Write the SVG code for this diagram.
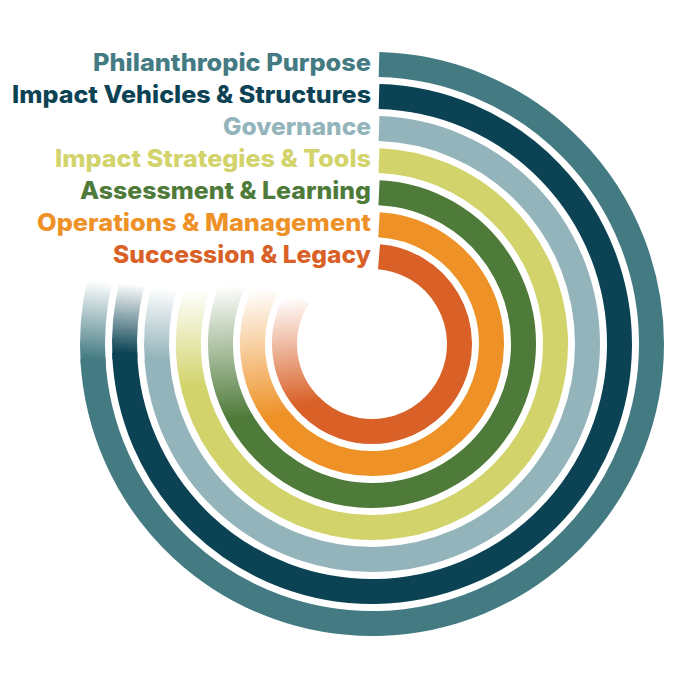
<svg xmlns="http://www.w3.org/2000/svg" width="682" height="682" viewBox="0 0 682 682">
<style>
.ring{fill:none;stroke-width:25}
.lbl{font-family:Inter,"Open Sans","Liberation Sans",sans-serif;font-weight:800;font-size:24px}
</style>
<defs>
<linearGradient id="g1" gradientUnits="userSpaceOnUse" x1="93.36" y1="365.93" x2="99.66" y2="281.13"><stop offset="0.08" stop-color="#447B83"/><stop offset="1" stop-color="#447B83" stop-opacity="0"/></linearGradient>
<linearGradient id="g2" gradientUnits="userSpaceOnUse" x1="124.96" y1="359.11" x2="131.85" y2="284.12"><stop offset="0.08" stop-color="#0B4355"/><stop offset="1" stop-color="#0B4355" stop-opacity="0"/></linearGradient>
<linearGradient id="g3" gradientUnits="userSpaceOnUse" x1="157.49" y1="364.65" x2="163.84" y2="288.22"><stop offset="0.08" stop-color="#94B4BB"/><stop offset="1" stop-color="#94B4BB" stop-opacity="0"/></linearGradient>
<linearGradient id="g4" gradientUnits="userSpaceOnUse" x1="195.17" y1="393.04" x2="196.52" y2="290.35"><stop offset="0.06" stop-color="#D2D36A"/><stop offset="1" stop-color="#D2D36A" stop-opacity="0"/></linearGradient>
<linearGradient id="g5" gradientUnits="userSpaceOnUse" x1="242.83" y1="423.16" x2="232.54" y2="284.80"><stop offset="0.04" stop-color="#4F7B3A"/><stop offset="1" stop-color="#4F7B3A" stop-opacity="0"/></linearGradient>
<linearGradient id="g6" gradientUnits="userSpaceOnUse" x1="281.13" y1="421.61" x2="266.49" y2="287.90"><stop offset="0.04" stop-color="#EE9126"/><stop offset="1" stop-color="#EE9126" stop-opacity="0"/></linearGradient>
<linearGradient id="g7" gradientUnits="userSpaceOnUse" x1="311.77" y1="407.47" x2="298.62" y2="296.34"><stop offset="0.04" stop-color="#D96128"/><stop offset="1" stop-color="#D96128" stop-opacity="0"/></linearGradient>
</defs>
<rect width="682" height="682" fill="#FFFFFF"/>
<g id="ring-philanthropic-purpose">
<path class="ring" stroke="#447B83" d="M379,64.59 A279.5,279.5 0 1 1 92.88,358.63"/>
<path class="ring" stroke="url(#g1)" d="M93.36,365.93 A279.5,279.5 0 0 1 99.66,281.13"/>
<text class="lbl" x="93" y="71" textLength="278" lengthAdjust="spacingAndGlyphs" fill="#447B83">Philanthropic Purpose</text>
</g>
<g id="ring-impact-vehicles">
<path class="ring" stroke="#0B4355" d="M379,96.60 A247.5,247.5 0 1 1 124.65,352.64"/>
<path class="ring" stroke="url(#g2)" d="M124.96,359.11 A247.5,247.5 0 0 1 131.85,284.12"/>
<text class="lbl" x="12" y="103" textLength="359" lengthAdjust="spacingAndGlyphs" fill="#0B4355">Impact Vehicles &amp; Structures</text>
</g>
<g id="ring-governance">
<path class="ring" stroke="#94B4BB" d="M379,128.61 A215.5,215.5 0 1 1 157.03,359.03"/>
<path class="ring" stroke="url(#g3)" d="M157.49,364.65 A215.5,215.5 0 0 1 163.84,288.22"/>
<text class="lbl" x="223" y="135" textLength="148" lengthAdjust="spacingAndGlyphs" fill="#94B4BB">Governance</text>
</g>
<g id="ring-impact-strategies">
<path class="ring" stroke="#D2D36A" d="M379,160.63 A183.5,183.5 0 1 1 193.95,388.39"/>
<path class="ring" stroke="url(#g4)" d="M195.17,393.04 A183.5,183.5 0 0 1 196.52,290.35"/>
<text class="lbl" x="55" y="167" textLength="316" lengthAdjust="spacingAndGlyphs" fill="#D2D36A">Impact Strategies &amp; Tools</text>
</g>
<g id="ring-assessment">
<path class="ring" stroke="#4F7B3A" d="M379,192.66 A151.5,151.5 0 1 1 240.80,419.75"/>
<path class="ring" stroke="url(#g5)" d="M242.83,423.16 A151.5,151.5 0 0 1 232.54,284.80"/>
<text class="lbl" x="80" y="199" textLength="291" lengthAdjust="spacingAndGlyphs" fill="#4F7B3A">Assessment &amp; Learning</text>
</g>
<g id="ring-operations">
<path class="ring" stroke="#EE9126" d="M379,224.71 A119.5,119.5 0 1 1 279.13,419.20"/>
<path class="ring" stroke="url(#g6)" d="M281.13,421.61 A119.5,119.5 0 0 1 266.49,287.90"/>
<text class="lbl" x="37" y="231" textLength="334" lengthAdjust="spacingAndGlyphs" fill="#EE9126">Operations &amp; Management</text>
</g>
<g id="ring-succession">
<path class="ring" stroke="#D96128" d="M379,256.78 A87.5,87.5 0 1 1 310.13,405.87"/>
<path class="ring" stroke="url(#g7)" d="M311.77,407.47 A87.5,87.5 0 0 1 298.62,296.34"/>
<text class="lbl" x="113" y="263" textLength="258" lengthAdjust="spacingAndGlyphs" fill="#D96128">Succession &amp; Legacy</text>
</g>
<g id="connectors"/>
</svg>
